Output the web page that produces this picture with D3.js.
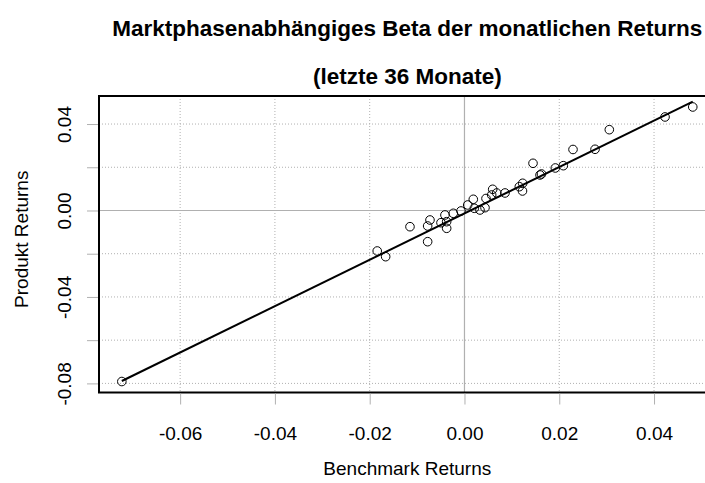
<!DOCTYPE html>
<html>
<head>
<meta charset="utf-8">
<script src="https://cdn.jsdelivr.net/npm/d3@7"></script>
<style>
  html, body { margin: 0; padding: 0; background: #fff; }
  svg { display: block; font-family: "Liberation Sans", Arial, Helvetica, sans-serif; }
</style>
</head>
<body>
<svg id="chart" width="705" height="483"></svg>
<script>
// ---- data ----
const benchmarkReturns = [
  -0.01841, -0.01150, -0.00777, -0.00777, -0.00728, -0.00496, -0.00412, -0.00376, -0.00376,
  -0.00236, -0.00074, 0.00068, 0.00186, 0.00207, 0.00327, 0.00433, 0.00454, 0.00595,
  0.00574, 0.00680, 0.00855, 0.01157, 0.01228, 0.01224, 0.01446, 0.01594, 0.01625,
  0.01917, 0.02085, 0.02290, 0.02755, 0.03056, 0.04232, 0.04817, -0.07230, -0.01663
];
const produktReturns = [
  -0.01874, -0.00750, -0.01444, -0.00717, -0.00440, -0.00565, -0.00208, -0.00518, -0.00824,
  -0.00130, -0.00023, 0.00255, 0.00518, 0.00102, 0.00023, 0.00130, 0.00555, 0.00981,
  0.00717, 0.00810, 0.00810, 0.01101, 0.01259, 0.00902, 0.02184, 0.01643, 0.01689,
  0.01967, 0.02073, 0.02823, 0.02832, 0.03739, 0.04327, 0.04789, -0.07913, -0.02138
];
// fitted regression line (alpha + beta * x)
const alpha = -0.00134;
const beta = 1.0727;

const xTicks = [-0.06, -0.04, -0.02, 0.00, 0.02, 0.04];
const yTicks = [-0.08, -0.06, -0.04, -0.02, 0.00, 0.02, 0.04];
const yTickLabels = ["-0.08", "", "-0.04", "", "0.00", "", "0.04"];

const titleLines = ["Marktphasenabhängiges Beta der monatlichen Returns", "(letzte 36 Monate)"];
const xLabel = "Benchmark Returns";
const yLabel = "Produkt Returns";

// ---- layout ----
const plot = { left: 99, right: 715.6, top: 96, bottom: 392.5 };
const svg = d3.select("#chart");

// R-style 4% domain extension
function extend(ext) { const r = ext[1] - ext[0]; return [ext[0] - 0.04 * r, ext[1] + 0.04 * r]; }
const x = d3.scaleLinear().domain(extend(d3.extent(benchmarkReturns))).range([plot.left, plot.right]);
const y = d3.scaleLinear().domain(extend(d3.extent(produktReturns))).range([plot.bottom, plot.top]);

const data = benchmarkReturns.map((b, i) => ({ b, p: produktReturns[i] }));

// clip
svg.append("defs").append("clipPath").attr("id", "clip")
  .append("rect").attr("x", plot.left).attr("y", plot.top)
  .attr("width", plot.right - plot.left).attr("height", plot.bottom - plot.top);

const gridG = svg.append("g").attr("clip-path", "url(#clip)");
// dotted grid
gridG.selectAll("line.vx").data(xTicks.filter(d => d !== 0)).enter().append("line")
  .attr("x1", d => x(d)).attr("x2", d => x(d)).attr("y1", plot.top).attr("y2", plot.bottom)
  .attr("stroke", "#b0b0b0").attr("stroke-width", 1).attr("stroke-dasharray", "1,2");
gridG.selectAll("line.hy").data(yTicks.filter(d => d !== 0)).enter().append("line")
  .attr("y1", d => y(d)).attr("y2", d => y(d)).attr("x1", plot.left).attr("x2", plot.right)
  .attr("stroke", "#b0b0b0").attr("stroke-width", 1).attr("stroke-dasharray", "1,2");
// zero lines (solid gray)
gridG.append("line").attr("x1", x(0)).attr("x2", x(0)).attr("y1", plot.top).attr("y2", plot.bottom)
  .attr("stroke", "#b0b0b0").attr("stroke-width", 1.2);
gridG.append("line").attr("y1", y(0)).attr("y2", y(0)).attr("x1", plot.left).attr("x2", plot.right)
  .attr("stroke", "#b0b0b0").attr("stroke-width", 1.2);

// regression line over data range
const xr = d3.extent(benchmarkReturns);
svg.append("line")
  .attr("x1", x(xr[0])).attr("y1", y(alpha + beta * xr[0]))
  .attr("x2", x(xr[1])).attr("y2", y(alpha + beta * xr[1]))
  .attr("stroke", "#000").attr("stroke-width", 2);

// points
svg.append("g").selectAll("circle").data(data).enter().append("circle")
  .attr("cx", d => x(d.b)).attr("cy", d => y(d.p)).attr("r", 4.3)
  .attr("fill", "none").attr("stroke", "#000").attr("stroke-width", 1);

// box
svg.append("path")
  .attr("d", `M${plot.right},${plot.top}H${plot.left}V${plot.bottom}H${plot.right}`)
  .attr("fill", "none").attr("stroke", "#000").attr("stroke-width", 2);

// axes
const xAxis = svg.append("g").attr("transform", `translate(0,${plot.bottom + 1})`)
  .call(d3.axisBottom(x).tickValues(xTicks).tickSize(11).tickPadding(22)
    .tickFormat(d => d.toFixed(2)));
xAxis.select(".domain").remove();
xAxis.selectAll(".tick line").attr("stroke", "#b0b0b0");
xAxis.selectAll(".tick text").attr("font-size", 19).attr("fill", "#000")
  .attr("font-family", "Liberation Sans, Arial, sans-serif");

const yAxis = svg.append("g").attr("transform", `translate(${plot.left - 1},0)`)
  .call(d3.axisLeft(y).tickValues(yTicks).tickSize(11)
    .tickFormat((d, i) => yTickLabels[i]));
yAxis.select(".domain").remove();
yAxis.selectAll(".tick line").attr("stroke", "#b0b0b0");
yAxis.selectAll(".tick text").attr("font-size", 19).attr("fill", "#000")
  .attr("font-family", "Liberation Sans, Arial, sans-serif")
  .attr("transform", "rotate(-90)").attr("x", 0).attr("y", -27).attr("dy", 0)
  .attr("text-anchor", "middle");

// titles
const cx = (plot.left + plot.right) / 2;
svg.append("text").attr("x", cx).attr("y", 36).attr("text-anchor", "middle")
  .attr("font-size", 22.5).attr("font-weight", "bold").text(titleLines[0]);
svg.append("text").attr("x", cx).attr("y", 84).attr("text-anchor", "middle")
  .attr("font-size", 22.5).attr("font-weight", "bold").text(titleLines[1]);

// axis labels
svg.append("text").attr("x", cx).attr("y", 475).attr("text-anchor", "middle")
  .attr("font-size", 19).text(xLabel);
svg.append("text").attr("transform", `translate(28,${(plot.top + plot.bottom) / 2 - 5}) rotate(-90)`)
  .attr("text-anchor", "middle").attr("font-size", 19).text(yLabel);
</script>
</body>
</html>
